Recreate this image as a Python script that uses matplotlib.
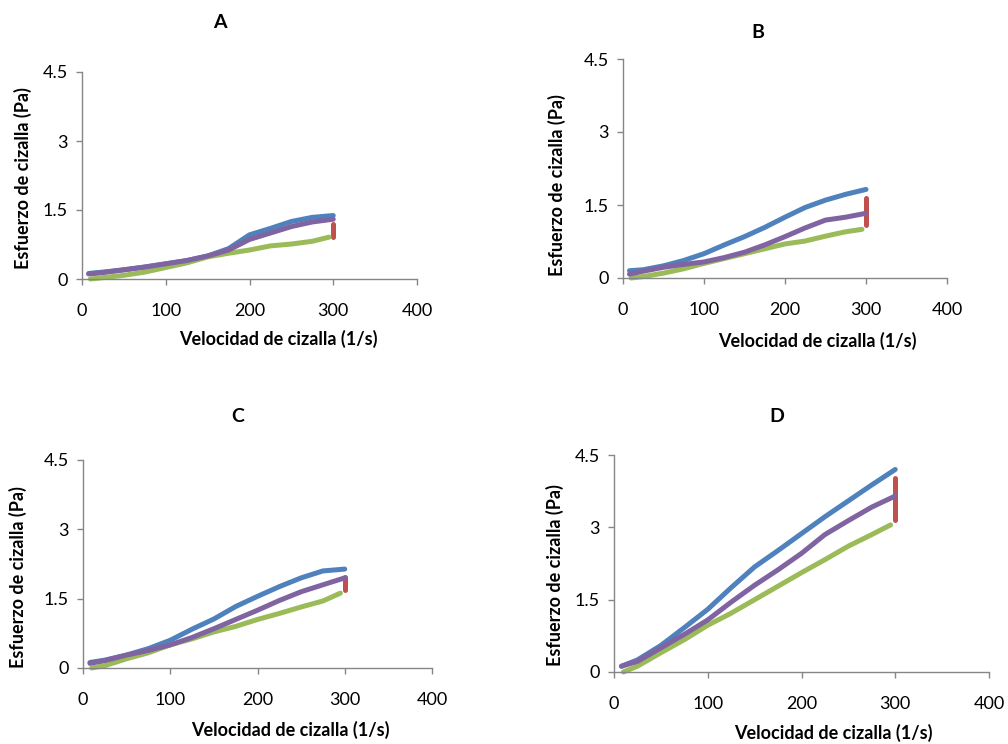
import matplotlib
matplotlib.use("Agg")
import matplotlib.pyplot as plt

W, H = 1008, 744

plt.rcParams.update({
    "font.family": ["Lato", "DejaVu Sans"],
    "font.size": 12,
})

BLUE = "#4F81BD"
RED = "#C0504D"
GREEN = "#9BBB59"
PURPLE = "#8064A2"
AXIS = "#868686"

# --- data (shear rate 1/s -> shear stress Pa) ---
x_up = [8, 25, 50, 75, 100, 125, 150, 175, 200, 225, 250, 275, 300]
x_green = [10, 25, 50, 75, 100, 125, 150, 175, 200, 225, 250, 275, 295]

a_blue = [0.12, 0.15, 0.20, 0.26, 0.33, 0.40, 0.50, 0.66, 0.96, 1.10, 1.25, 1.34, 1.38]
a_purple = [0.11, 0.14, 0.20, 0.26, 0.33, 0.40, 0.50, 0.63, 0.86, 1.00, 1.14, 1.24, 1.30]
a_green = [0.0, 0.03, 0.08, 0.15, 0.25, 0.35, 0.48, 0.56, 0.63, 0.72, 0.76, 0.82, 0.91]
a_red = [1.20, 1.05, 0.92]

b_blue = [0.15, 0.17, 0.25, 0.36, 0.50, 0.68, 0.85, 1.04, 1.25, 1.45, 1.60, 1.72, 1.82]
b_purple = [0.08, 0.14, 0.22, 0.28, 0.33, 0.42, 0.53, 0.68, 0.85, 1.03, 1.19, 1.25, 1.33]
b_green = [0.0, 0.03, 0.10, 0.19, 0.30, 0.40, 0.50, 0.60, 0.70, 0.76, 0.86, 0.95, 1.00]
b_red = [1.65, 1.35, 1.08]

c_blue = [0.12, 0.17, 0.28, 0.42, 0.60, 0.84, 1.06, 1.33, 1.55, 1.76, 1.95, 2.10, 2.14]
c_purple = [0.10, 0.16, 0.28, 0.38, 0.50, 0.66, 0.85, 1.05, 1.25, 1.46, 1.65, 1.80, 1.95]
c_green = [0.0, 0.05, 0.20, 0.33, 0.50, 0.63, 0.78, 0.90, 1.05, 1.18, 1.32, 1.45, 1.62]
c_red = [1.97, 1.82, 1.68]

d_blue = [0.12, 0.25, 0.55, 0.92, 1.30, 1.75, 2.18, 2.52, 2.87, 3.22, 3.55, 3.88, 4.20]
d_purple = [0.12, 0.22, 0.50, 0.78, 1.08, 1.45, 1.80, 2.12, 2.46, 2.85, 3.14, 3.42, 3.65]
d_green = [0.0, 0.12, 0.40, 0.67, 0.97, 1.22, 1.50, 1.78, 2.06, 2.33, 2.61, 2.85, 3.05]
d_red = [4.02, 3.60, 3.16]

panels = [
    # label, data, axes box (left, top, right, bottom px), title xy, xlabel xy, ylabel xy
    ("A", a_blue, a_red, a_green, a_purple, (82, 72, 417, 279), (220, 23), (278, 339), (23, 178)),
    ("B", b_blue, b_red, b_green, b_purple, (623, 59, 947, 278), (758, 32), (817, 341), (557, 185)),
    ("C", c_blue, c_red, c_green, c_purple, (83, 460, 432, 668), (238, 417), (290, 730), (18, 577)),
    ("D", d_blue, d_red, d_green, d_purple, (614, 455, 989, 672), (777, 417), (833, 733), (555, 575)),
]

fig = plt.figure(figsize=(W / 100, H / 100), dpi=100)

for name, blue, red, green, purple, box, tpos, xlpos, ylpos in panels:
    l, t, r, b = box
    ax = fig.add_axes([l / W, (H - b) / H, (r - l) / W, (b - t) / H])
    kw = dict(lw=3.6, solid_capstyle="round", solid_joinstyle="round", clip_on=False)
    ax.plot(x_up, blue, color=BLUE, **kw)
    ax.plot([300] * len(red), red, color=RED, **kw)
    ax.plot(x_green, green, color=GREEN, **kw)
    ax.plot(x_up, purple, color=PURPLE, **kw)

    ax.set_xlim(0, 400)
    ax.set_ylim(0, 4.5)
    ax.set_xticks([0, 100, 200, 300, 400])
    ax.set_yticks([0, 1.5, 3, 4.5])
    ax.set_yticklabels(["0", "1.5", "3", "4.5"])
    for s in ["top", "right"]:
        ax.spines[s].set_visible(False)
    for s in ["left", "bottom"]:
        ax.spines[s].set_color(AXIS)
        ax.spines[s].set_linewidth(1.0)
    ax.tick_params(direction="out", length=4, width=1.0, color=AXIS,
                   labelsize=13, labelcolor="black")
    ax.tick_params(axis="x", pad=13)
    ax.tick_params(axis="y", pad=6)

    fig.text(tpos[0] / W, 1 - tpos[1] / H, name, ha="center", va="center",
             fontsize=14, fontweight="bold")
    fig.text(xlpos[0] / W, 1 - xlpos[1] / H, "Velocidad de cizalla (1/s)",
             ha="center", va="center", fontsize=13, fontweight="bold")
    fig.text(ylpos[0] / W, 1 - ylpos[1] / H, "Esfuerzo de cizalla (Pa)",
             ha="center", va="center", rotation=90, fontsize=13, fontweight="bold")

fig.savefig("out.png", dpi=100, facecolor="white")
